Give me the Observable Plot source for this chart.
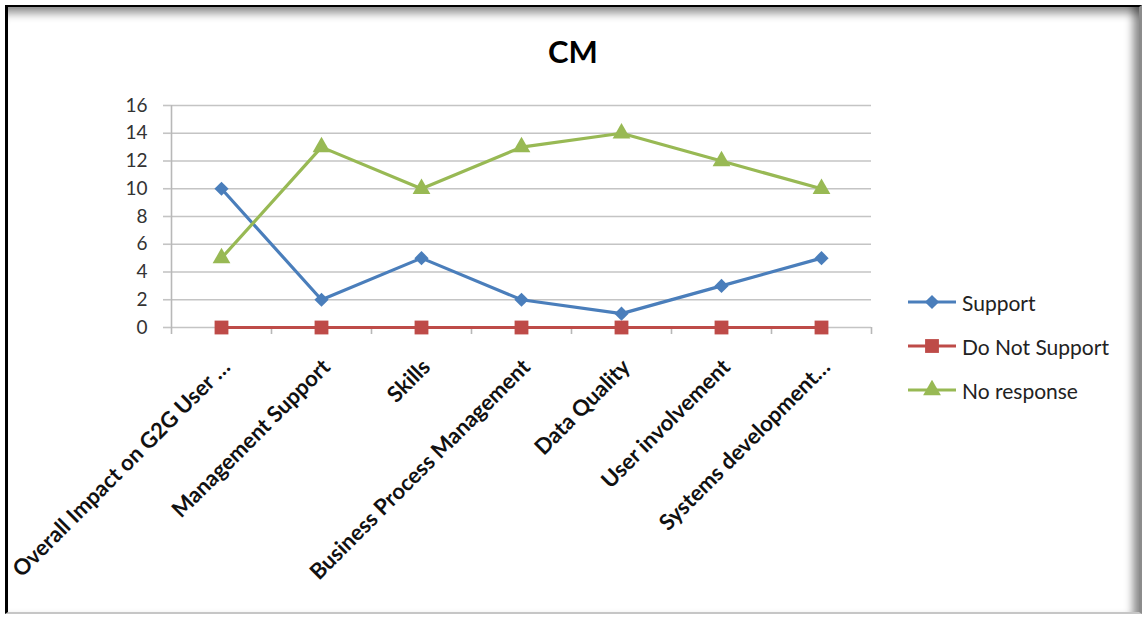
<!DOCTYPE html>
<html>
<head>
<meta charset="utf-8">
<script src="https://cdn.jsdelivr.net/npm/d3@7"></script>
<script src="https://cdn.jsdelivr.net/npm/@observablehq/plot@0.6"></script>
<style>
  html, body { margin: 0; padding: 0; background: #fff; }
  body { width: 1142px; height: 617px; position: relative; overflow: hidden; font-family: Lato, "Open Sans", sans-serif; }
  .frame {
    position: absolute; left: 5px; top: 5px; width: 1131px; height: 605px;
    border-top: 2px solid #000; border-left: 3px solid #000;
    border-bottom: 2px solid #c6c6c6; border-right: 3px solid #8c8c8c;
    box-shadow: inset 0 14px 10px -8px rgba(0,0,0,0.45), inset -12px 0 8px -6px rgba(0,0,0,0.45);
  }
  #chart { position: absolute; left: 0; top: 0; }
  .title { position: absolute; left: 0; width: 1146px; top: 32px; text-align: center; font: bold 31px Lato, sans-serif; color: #000; }
  .legend { position: absolute; left: 906px; top: 280px; font: 21px Lato, sans-serif; color: #222; }
  .legend .row { display: flex; align-items: center; height: 44px; }
  .legend svg { margin-right: 4px; }
</style>
</head>
<body>
<div class="frame"></div>
<div id="chart"></div>
<div class="title">CM</div>
<div class="legend" id="legend"></div>
<script>
// Categories along the x axis
const categories = [
  "Overall Impact on G2G User …",
  "Management Support",
  "Skills",
  "Business Process Management",
  "Data Quality",
  "User involvement",
  "Systems development…"
];

// Series values, one per category
const support      = [10, 2, 5, 2, 1, 3, 5];
const doNotSupport = [0, 0, 0, 0, 0, 0, 0];
const noResponse   = [5, 13, 10, 13, 14, 12, 10];

const seriesNames  = ["Support", "Do Not Support", "No response"];
const seriesColors = ["#4a7ebb", "#be4b48", "#98b954"];
const seriesSymbols = ["diamond2", "square", "triangle"];
const seriesRadius = [6.4, 7.8, 6.6];

const yTicks = [0, 2, 4, 6, 8, 10, 12, 14, 16];

// Long-form rows for the marks
const seriesValues = [support, doNotSupport, noResponse];
const rows = seriesNames.flatMap((name, s) =>
  categories.map((c, i) => ({series: name, i, category: c, value: seriesValues[s][i]}))
);

// Category boundaries for the x tick marks
const boundaries = d3.range(categories.length + 1).map(k => k - 0.5);

const gridColor = "#c4c4c4";
const axisColor = "#b8b8b8";

const chart = Plot.plot({
  width: 1142,
  height: 617,
  marginLeft: 171,
  marginRight: 271,
  marginTop: 105,
  marginBottom: 290,
  style: {background: "transparent", fontFamily: "Lato, sans-serif", overflow: "visible"},
  x: {type: "linear", domain: [-0.5, categories.length - 0.5], axis: null},
  y: {domain: [0, 16], axis: null},
  color: {domain: seriesNames, range: seriesColors},
  symbol: {domain: seriesNames, range: seriesSymbols},
  marks: [
    Plot.ruleY(yTicks, {stroke: gridColor, strokeWidth: 1.6}),
    Plot.ruleX([-0.5], {stroke: axisColor, strokeWidth: 1.6}),
    Plot.axisY({ticks: yTicks, tickSize: 8, stroke: gridColor, strokeWidth: 1.6, tickPadding: 16,
      fontSize: 19, fill: "#333", label: null, strokeOpacity: 1}),
    Plot.axisX({ticks: boundaries, tickSize: 7, stroke: axisColor, strokeWidth: 1.6, tickFormat: () => "", label: null}),
    Plot.axisX({ticks: d3.range(categories.length), tickSize: 0, tickFormat: i => categories[i],
      tickRotate: -45, tickPadding: 36, dx: 5, fontSize: 22, fontWeight: "bold", fill: "#111", label: null}),
    Plot.lineY(rows, {x: "i", y: "value", z: "series", stroke: "series", strokeWidth: 3.2}),
    ...seriesNames.map((name, s) =>
      Plot.dot(rows.filter(d => d.series === name), {x: "i", y: "value", symbol: "series", fill: "series", stroke: "none", r: seriesRadius[s]})
    )
  ]
});
document.getElementById("chart").append(chart);

// Legend: line swatch with marker, then series name
const legend = d3.select("#legend");
seriesNames.forEach((name, s) => {
  const row = legend.append("div").attr("class", "row");
  const svg = row.append("svg").attr("width", 52).attr("height", 20);
  svg.append("line").attr("x1", 2).attr("x2", 50).attr("y1", 10).attr("y2", 10)
    .attr("stroke", seriesColors[s]).attr("stroke-width", 3.2);
  const sym = {diamond2: d3.symbolDiamond2, square: d3.symbolSquare, triangle: d3.symbolTriangle}[seriesSymbols[s]];
  svg.append("path").attr("transform", "translate(26,10)")
    .attr("d", d3.symbol(sym, Math.PI * seriesRadius[s] * seriesRadius[s])())
    .attr("fill", seriesColors[s]);
  row.append("span").text(name);
});
</script>
</body>
</html>
